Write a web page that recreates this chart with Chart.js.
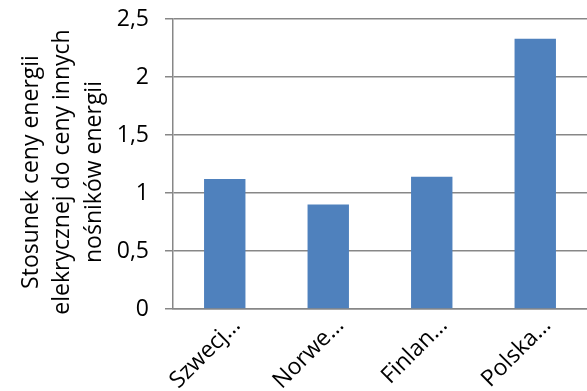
<!DOCTYPE html>
<html>
<head>
<meta charset="utf-8">
<script src="https://cdn.jsdelivr.net/npm/chart.js@4/dist/chart.umd.min.js"></script>
<style>
  html, body { margin: 0; padding: 0; background: #ffffff; }
  #wrap { position: relative; width: 587px; height: 391px; }
</style>
</head>
<body>
<div id="wrap"><canvas id="chart"></canvas></div>
<script>
// Category labels (as shown, shortened) and the price ratio per country
const countries = ['Szwecj…', 'Norwe…', 'Finlan…', 'Polska…'];
const ratios = [1.12, 0.90, 1.14, 2.33];
const yTitleLines = ['Stosunek ceny energii', 'elekrycznej do ceny innych', 'nośników energii'];
const yTickValues = [0, 0.5, 1, 1.5, 2, 2.5];

const FONT = '"Open Sans", sans-serif';
const GRID = '#878787';

// Three-line vertical axis title, drawn rotated to the left of the value axis
const yTitlePlugin = {
  id: 'yTitle',
  afterDraw(chart) {
    const ctx = chart.ctx;
    const lineGap = 31.5;
    const firstX = 31;
    const centerY = 172;
    ctx.save();
    ctx.fillStyle = '#000000';
    ctx.font = '23px ' + FONT;
    ctx.textAlign = 'center';
    ctx.textBaseline = 'middle';
    yTitleLines.forEach((line, i) => {
      ctx.save();
      ctx.translate(firstX + i * lineGap, centerY);
      ctx.rotate(-Math.PI / 2);
      ctx.fillText(line, 0, 0);
      ctx.restore();
    });
    ctx.restore();
  }
};

new Chart(document.getElementById('chart'), {
  type: 'bar',
  data: {
    labels: countries,
    datasets: [{
      data: ratios,
      backgroundColor: '#4f81bd',
      borderWidth: 0,
      categoryPercentage: 1,
      barPercentage: 0.4
    }]
  },
  plugins: [yTitlePlugin],
  options: {
    responsive: true,
    maintainAspectRatio: false,
    animation: false,
    layout: { padding: { top: 19, right: 0, bottom: 0, left: 0 } },
    plugins: { legend: { display: false }, tooltip: { enabled: false } },
    scales: {
      x: {
        grid: { display: false, drawTicks: false },
        border: { display: true, color: GRID, width: 1.5 },
        ticks: {
          autoSkip: false,
          maxRotation: 45,
          minRotation: 45,
          padding: 3,
          labelOffset: 12,
          color: '#000000',
          font: { family: FONT, size: 23 }
        },
        afterFit: (scale) => { scale.height = 82; scale.paddingLeft = 0; scale.paddingRight = 0; }
      },
      y: {
        min: 0,
        max: 2.5,
        afterBuildTicks: (scale) => { scale.ticks = yTickValues.map(v => ({ value: v })); },
        grid: { color: GRID, lineWidth: 1.5, drawTicks: true, tickLength: 8 },
        border: { display: true, color: GRID, width: 1.5 },
        ticks: {
          padding: 16,
          color: '#000000',
          font: { family: FONT, size: 23 },
          callback: (v) => String(v).replace('.', ',')
        },
        afterFit: (scale) => { scale.width = 173; scale.paddingTop = 0; scale.paddingBottom = 0; }
      }
    }
  }
});
</script>
</body>
</html>
